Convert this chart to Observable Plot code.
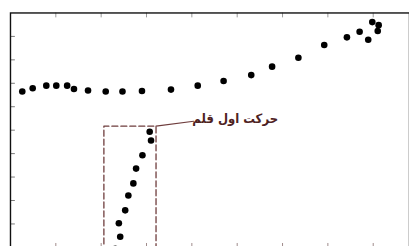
<!DOCTYPE html>
<html>
<head>
<meta charset="utf-8">
<script src="https://cdn.jsdelivr.net/npm/d3@7"></script>
<script src="https://cdn.jsdelivr.net/npm/@observablehq/plot@0.6"></script>
<style>
  html, body { margin: 0; padding: 0; background: #fff; }
  #wrap { width: 409px; height: 246px; overflow: hidden; position: relative; }
</style>
</head>
<body>
<div id="wrap"></div>
<script>
// Baseline (slow) series
const baseX = [0.26, 0.49, 0.79, 1.01, 1.25, 1.40, 1.71, 2.10, 2.47, 2.90, 3.54, 4.13, 4.70, 5.31, 5.77, 6.35, 6.92, 7.42, 7.70, 7.89, 7.98, 8.12, 8.10];
const baseY = [6.65, 6.79, 6.90, 6.90, 6.90, 6.76, 6.69, 6.65, 6.65, 6.67, 6.73, 6.90, 7.10, 7.35, 7.71, 8.09, 8.63, 8.96, 9.20, 8.86, 9.61, 9.48, 9.23];
// First pen stroke (steep) series
const strokeX = [3.07, 3.10, 2.91, 2.77, 2.71, 2.60, 2.53, 2.39, 2.42, 2.31];
const strokeY = [4.93, 4.56, 3.93, 3.36, 2.73, 2.21, 1.58, 1.03, 0.45, -0.06];
// Ticks
const xTicks = [1, 2, 3, 4, 5, 6, 7, 8];
const yTicks = [1, 2, 3, 4, 5, 6, 7, 8, 9];
// Annotation
const label = "حرکت اول قلم";
const boxX = [2.06, 3.21];
const boxY = [-1, 5.17];
const leaderX = [3.21, 4.04];
const leaderY = [5.17, 5.38];
const labelX = 4.01;
const labelY = 5.47;

const points = [
  ...baseX.map((x, i) => ({x, y: baseY[i]})),
  ...strokeX.map((x, i) => ({x, y: strokeY[i]}))
];
const boxPath = [
  {x: boxX[0], y: boxY[0]}, {x: boxX[0], y: boxY[1]},
  {x: boxX[1], y: boxY[1]}, {x: boxX[1], y: boxY[0]}
];
const leader = leaderX.map((x, i) => ({x, y: leaderY[i]}));

const annColor = "#6e3c3c";
const textColor = "#4e2222";
const tickShape = {draw(ctx, l) { ctx.moveTo(0, 0); ctx.lineTo(0, -l); }};

const chart = Plot.plot({
  width: 410,
  height: 250,
  marginLeft: 10,
  marginRight: 0,
  marginTop: 12.5,
  marginBottom: 2.5,
  x: {domain: [0, 8.8], axis: null},
  y: {domain: [0, 10], axis: null},
  style: {background: "white", overflow: "visible"},
  marks: [
    Plot.vector(xTicks, {x: d => d, y: () => 10, length: 4, rotate: 180, anchor: "start", shape: tickShape, stroke: "#9a9a9a", strokeWidth: 1}),
    Plot.vector(xTicks, {x: d => d, y: () => 0, length: 4, rotate: 0, anchor: "start", shape: tickShape, stroke: "#a08c8c", strokeWidth: 1}),
    Plot.vector(yTicks, {x: () => 0, y: d => d, length: 4, rotate: 90, anchor: "start", shape: tickShape, stroke: "#7a7a7a", strokeWidth: 1}),
    Plot.frame({stroke: "#111", strokeWidth: 1.4}),
    Plot.line(boxPath, {x: "x", y: "y", stroke: annColor, strokeWidth: 1.3, strokeDasharray: "6,3"}),
    Plot.line(leader, {x: "x", y: "y", stroke: annColor, strokeWidth: 1.2}),
    Plot.dot(points, {x: "x", y: "y", r: 3.3, fill: "black"}),
    Plot.text([label], {x: () => labelX, y: () => labelY, text: d => d, textAnchor: "start", fill: textColor, fontSize: 13, fontWeight: "bold", fontFamily: "DejaVu Sans Condensed, DejaVu Sans"})
  ]
});
document.getElementById("wrap").appendChild(chart);
</script>
</body>
</html>
